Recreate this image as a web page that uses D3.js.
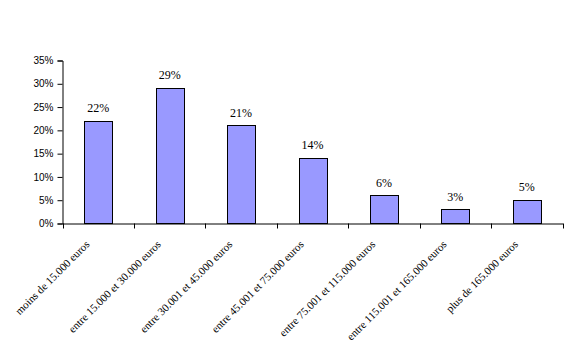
<!DOCTYPE html>
<html><head><meta charset="utf-8">
<script src="https://cdn.jsdelivr.net/npm/d3@7"></script>
<style>html,body{margin:0;padding:0;background:#fff;}</style>
</head><body>
<svg id="chart" width="582" height="355"></svg>
<script>
const categories = ["moins de 15.000 euros","entre 15.000 et 30.000 euros","entre 30.001 et 45.000 euros","entre 45.001 et 75.000 euros","entre 75.001 et 115.000 euros","entre 115.001 et 165.000 euros","plus de 165.000 euros"];
const values = [0.22, 0.29, 0.21, 0.14, 0.06, 0.03, 0.05];
const yTicks = [0, 0.05, 0.10, 0.15, 0.20, 0.25, 0.30, 0.35];

(function(){
const svg = d3.select("#chart");
const pL = 62.5, pR = 562.5, pT = 60.5, pB = 223.5;
const xb = d3.scaleBand().domain(categories).range([pL, pR]);
const y = d3.scaleLinear().domain([0, 0.35]).range([pB, pT]);
const barW = 28;
const cx = c => xb(c) + xb.bandwidth()/2;

// bars
svg.append("g").selectAll("rect").data(values).join("rect")
  .attr("x", (d,i) => Math.round(cx(categories[i]) - barW/2) + 0.5)
  .attr("y", d => Math.round(y(d) - 0.5) + 0.5)
  .attr("width", barW)
  .attr("height", d => pB - (Math.round(y(d) - 0.5) + 0.5))
  .attr("fill", "#9999FF").attr("stroke", "#000").attr("stroke-width", 1);

// y axis
const ya = svg.append("g").attr("transform", `translate(${pL},0)`)
  .call(d3.axisLeft(y).tickValues(yTicks).tickFormat(d3.format(".0%")).tickSize(5).tickPadding(4));
ya.select(".domain").attr("stroke", "#000");
ya.selectAll("text").attr("font-family", "Liberation Sans, Arial, sans-serif").attr("font-size", "10px").attr("fill", "#000");

// x axis (ticks at category boundaries)
const xa = svg.append("g").attr("transform", `translate(0,${pB})`)
  .call(d3.axisBottom(xb).tickSize(0).tickFormat(""));
xa.select(".domain").attr("stroke", "#000");
xa.selectAll(".tick").remove();
const bounds = categories.map(c => xb(c)).concat([pR]);
xa.selectAll("line.bt").data(bounds).join("line").attr("class","bt")
  .attr("x1", d => Math.round(d)+0.5).attr("x2", d => Math.round(d)+0.5)
  .attr("y1", 0).attr("y2", 5).attr("stroke", "#000");

// x labels rotated
svg.append("g").selectAll("text").data(categories).join("text")
  .attr("transform", d => `translate(${cx(d) - 8},${pB + 21.5}) rotate(-45)`)
  .attr("text-anchor", "end")
  .attr("font-family", "Liberation Serif, Times New Roman, serif").attr("font-size", "11px")
  .attr("fill", "#000").text(d => d);

// data labels
svg.append("g").selectAll("text").data(values).join("text")
  .attr("x", (d,i) => cx(categories[i]))
  .attr("y", d => y(d) - 9)
  .attr("text-anchor", "middle")
  .attr("font-family", "Liberation Serif, Times New Roman, serif").attr("font-size", "12px")
  .attr("fill", "#000").text(d => d3.format(".0%")(d));
})();
</script>
</body></html>
